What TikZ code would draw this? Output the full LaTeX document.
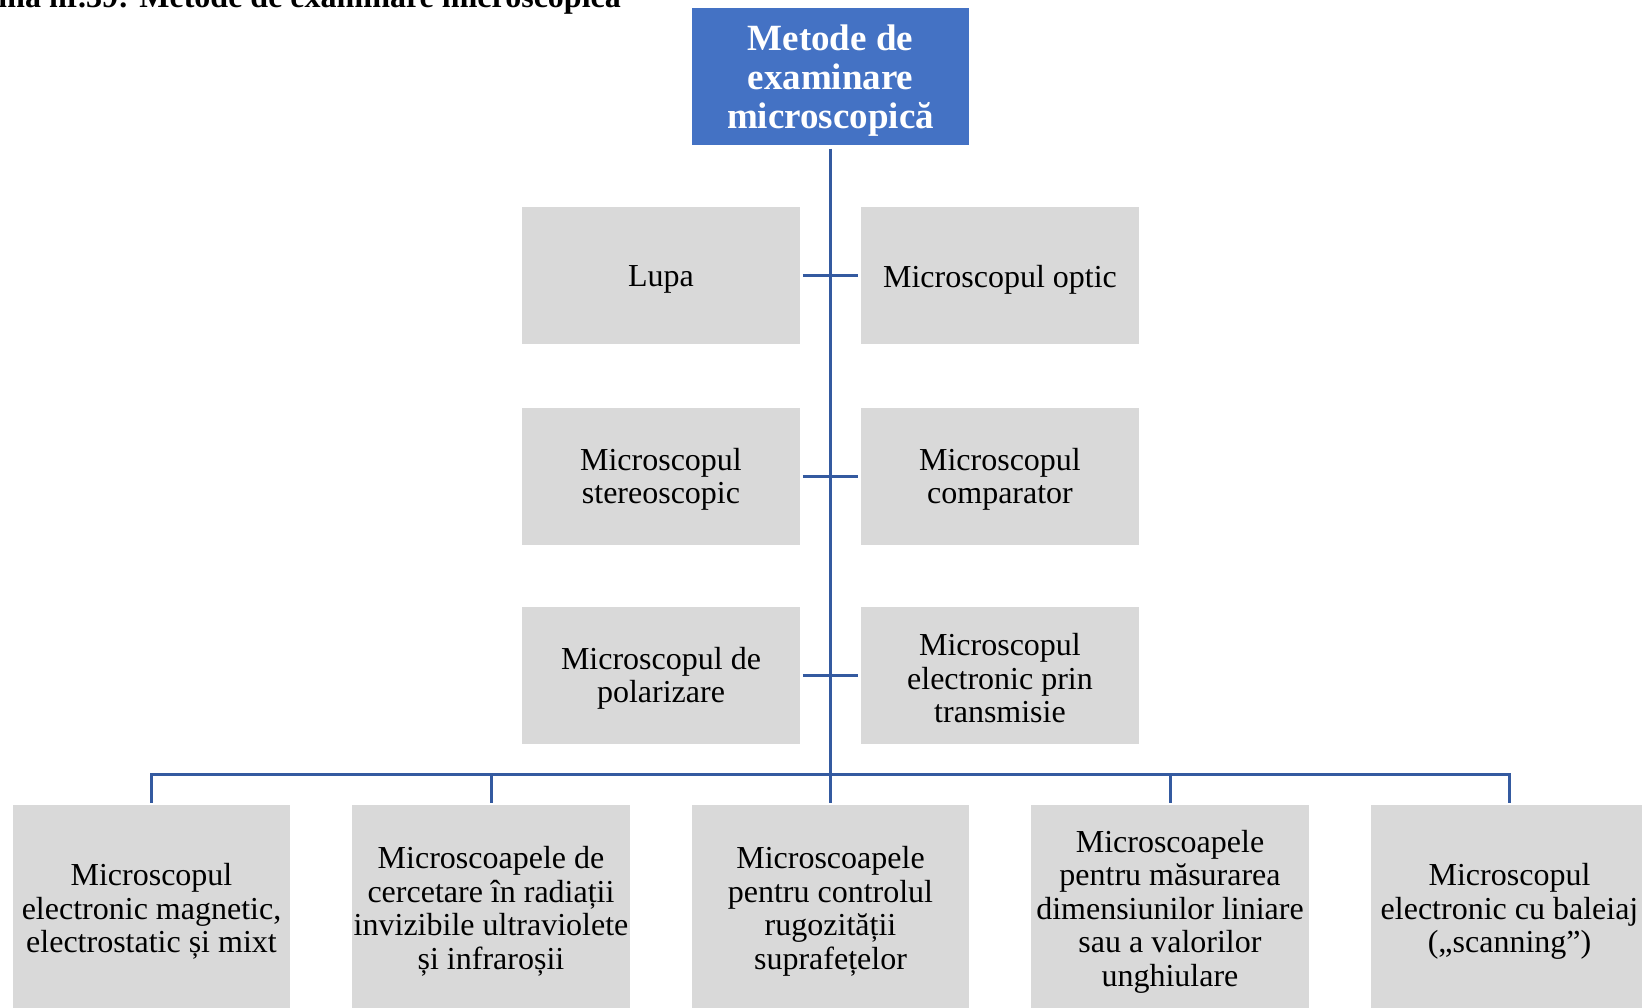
\documentclass[tikz,border=0pt]{standalone}
\usepackage{fontspec}
\setmainfont{Liberation Serif}
\definecolor{hdrblue}{HTML}{4472C4}
\definecolor{linblue}{RGB}{52,90,160}
\definecolor{boxgray}{HTML}{D9D9D9}
\begin{document}
\begin{tikzpicture}[x=1pt,y=-1pt,
  box/.style={fill=boxgray, minimum width=277.5pt, minimum height=137pt, inner sep=0pt},
  lowbox/.style={box, minimum height=206pt},
  hdr/.style={fill=hdrblue, minimum width=277.5pt, minimum height=137pt, inner sep=0pt},
  txt/.style={align=center, inner sep=0pt, yshift=-3.5pt, font=\fontsize{32}{33.5}\selectfont},
  hdrtxt/.style={align=center, inner sep=0pt, yshift=-3.5pt, text=white, font=\bfseries\fontsize{37}{39}\selectfont},
  conn/.style={draw=linblue, line width=3pt}]
\useasboundingbox (0,0) rectangle (1642,1008);
\fill[white] (0,0) rectangle (1642,1008);
\begin{scope}
\clip (0,0) rectangle (1642,1008);
\node[anchor=base east, inner sep=0pt, font=\bfseries\fontsize{32}{34}\selectfont] (cap) at (621,8) {Schema nr.39: Metode de examinare microscopică};
\end{scope}
\node[hdr, label={[hdrtxt]center:{Metode de\\examinare\\microscopică}}] (top) at (830.5,77) {};
\node[box, label={[txt]center:{Lupa}}] (L1) at (661,276) {};
\node[box, label={[txt]center:{Microscopul optic}}] (R1) at (1000,276) {};
\node[box, label={[txt]center:{Microscopul\\stereoscopic}}] (L2) at (661,476) {};
\node[box, label={[txt]center:{Microscopul\\comparator}}] (R2) at (1000,476) {};
\node[box, label={[txt]center:{Microscopul de\\polarizare}}] (L3) at (661,675) {};
\node[box, label={[txt]center:{Microscopul\\electronic prin\\transmisie}}] (R3) at (1000,675) {};
\node[lowbox, label={[txt]center:{Microscopul\\electronic magnetic,\\electrostatic și mixt}}] (B1) at (151.5,908) {};
\node[lowbox, label={[txt]center:{Microscoapele de\\cercetare în radiații\\invizibile ultraviolete\\și infraroșii}}] (B2) at (491,908) {};
\node[lowbox, label={[txt]center:{Microscoapele\\pentru controlul\\rugozității\\suprafețelor}}] (B3) at (830.5,908) {};
\node[lowbox, label={[txt]center:{Microscoapele\\pentru măsurarea\\dimensiunilor liniare\\sau a valorilor\\unghiulare}}] (B4) at (1170,908) {};
\node[lowbox, label={[txt]center:{Microscopul\\electronic cu baleiaj\\(„scanning”)}}] (B5) at (1509.5,908) {};
\coordinate (bus) at (830.5,774);
\draw[conn] ([yshift=-3pt]top.south) -- (bus);
\draw[conn] ([yshift=2pt]B1.north) -- (B1.north |- bus) -- (B5.north |- bus) -- ([yshift=2pt]B5.north);
\draw[conn] (B2.north |- bus) -- ([yshift=2pt]B2.north);
\draw[conn] (bus) -- ([yshift=2pt]B3.north);
\draw[conn] (B4.north |- bus) -- ([yshift=2pt]B4.north);
\draw[conn] ([xshift=3pt]L1.east) -- ([xshift=-3pt]R1.west);
\draw[conn] ([xshift=3pt]L2.east) -- ([xshift=-3pt]R2.west);
\draw[conn] ([xshift=3pt]L3.east) -- ([xshift=-3pt]R3.west);
\end{tikzpicture}
\end{document}
